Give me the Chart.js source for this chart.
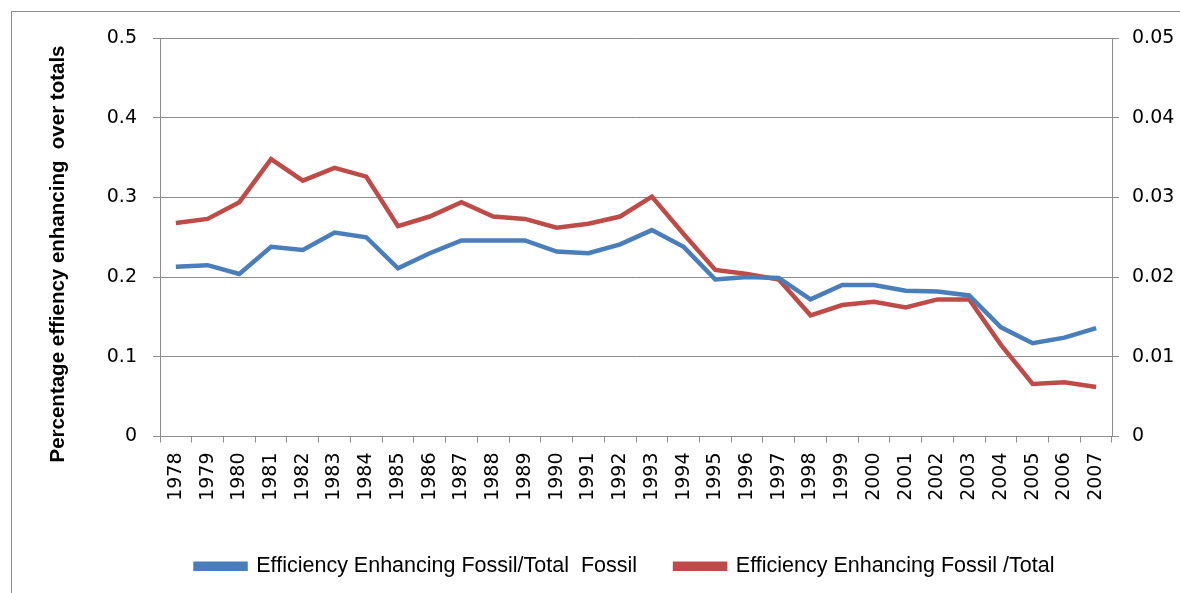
<!DOCTYPE html>
<html>
<head>
<meta charset="utf-8">
<script src="https://cdn.jsdelivr.net/npm/chart.js@4.4.0/dist/chart.umd.min.js"></script>
<style>
  body { margin: 0; background: #fff; overflow: hidden; }
  #frame { position: absolute; left: 11px; top: 11px; width: 1300px; height: 700px;
           border-left: 1px solid #8c8c8c; border-top: 1px solid #8c8c8c; }
  #myChart { position: absolute; left: 0; top: 0; }
</style>
</head>
<body>
<div id="frame"></div>
<canvas id="myChart" width="1180" height="593"></canvas>
<script>
// data
let years = ['1978', '1979', '1980', '1981', '1982', '1983', '1984', '1985', '1986', '1987',
  '1988', '1989', '1990', '1991', '1992', '1993', '1994', '1995', '1996', '1997',
  '1998', '1999', '2000', '2001', '2002', '2003', '2004', '2005', '2006', '2007'];

// left axis
let fossilShare = [0.213, 0.215, 0.204, 0.238, 0.234, 0.256, 0.250, 0.211, 0.230, 0.246,
  0.246, 0.246, 0.232, 0.230, 0.241, 0.259, 0.238, 0.197, 0.200, 0.199,
  0.172, 0.190, 0.190, 0.183, 0.182, 0.177, 0.137, 0.117, 0.124, 0.136];

// right axis
let totalShare = [0.0268, 0.0273, 0.0294, 0.0348, 0.0321, 0.0337, 0.0326, 0.0264, 0.0276, 0.0294,
  0.0276, 0.0273, 0.0262, 0.0267, 0.0276, 0.0301, 0.0254, 0.0209, 0.0204, 0.0197,
  0.0152, 0.0165, 0.0169, 0.0162, 0.0172, 0.0172, 0.0115, 0.0066, 0.0068, 0.0062];

let leftTicks = ['0', '0.1', '0.2', '0.3', '0.4', '0.5'];
let rightTicks = ['0', '0.01', '0.02', '0.03', '0.04', '0.05'];

let seriesNames = ['Efficiency Enhancing Fossil/Total  Fossil', 'Efficiency Enhancing Fossil /Total'];
let yTitle = 'Percentage effiency enhancing  over totals';

const gridGray = '#8c8c8c';
const tickFont = { family: 'DejaVu Sans', size: 19 };

// rotated axis title, placed like the original
const yTitlePlugin = {
  id: 'yTitle',
  afterDraw(chart) {
    const c = chart.ctx;
    c.save();
    c.translate(58, 254);
    c.rotate(-Math.PI / 2);
    c.font = 'bold 20.5px "Liberation Sans Narrow", "Liberation Sans", sans-serif';
    c.fillStyle = '#000';
    c.textAlign = 'center';
    c.textBaseline = 'middle';
    c.fillText(yTitle, 0, 0);
    c.restore();
  }
};

const ctx = document.getElementById('myChart').getContext('2d');
const myChart = new Chart(ctx, {
  type: 'line',
  data: {
    labels: years,
    datasets: [{
      label: seriesNames[0],
      data: fossilShare,
      borderColor: '#4a7ebb',
      backgroundColor: '#4a7ebb',
      borderWidth: 4.5,
      pointRadius: 0,
      tension: 0,
      yAxisID: 'y'
    }, {
      label: seriesNames[1],
      data: totalShare,
      borderColor: '#be4b48',
      backgroundColor: '#be4b48',
      borderWidth: 4.5,
      pointRadius: 0,
      tension: 0,
      yAxisID: 'y1'
    }]
  },
  options: {
    responsive: false,
    animation: false,
    layout: { padding: { top: 38, left: 70, right: 0, bottom: 6 } },
    plugins: {
      tooltip: { enabled: false },
      legend: {
        position: 'bottom',
        labels: {
          color: '#000',
          boxWidth: 50,
          boxHeight: 5,
          padding: 38,
          font: { family: '"Liberation Sans Narrow", "Liberation Sans", sans-serif', size: 21.5 }
        }
      }
    },
    scales: {
      x: {
        offset: true,
        grid: { offset: true, drawOnChartArea: false, tickLength: 6, color: gridGray },
        border: { color: gridGray },
        ticks: { color: '#000', font: tickFont, minRotation: 90, maxRotation: 90, padding: 10, autoSkip: false },
        afterFit: function(scale) { scale.height = 81; }
      },
      y: {
        position: 'left',
        min: 0,
        max: 0.5,
        ticks: {
          stepSize: 0.1,
          color: '#000',
          font: tickFont,
          padding: 16,
          callback: function(value, index) { return leftTicks[index]; }
        },
        grid: { color: gridGray, tickLength: 7 },
        border: { color: gridGray },
        afterFit: function(scale) { scale.width = 90; }
      },
      y1: {
        position: 'right',
        min: 0,
        max: 0.05,
        ticks: {
          stepSize: 0.01,
          color: '#000',
          font: tickFont,
          padding: 13,
          callback: function(value, index) { return rightTicks[index]; }
        },
        grid: { drawOnChartArea: false, color: gridGray, tickLength: 7 },
        border: { color: gridGray },
        afterFit: function(scale) { scale.width = 68; }
      }
    }
  },
  plugins: [yTitlePlugin]
});
</script>
</body>
</html>
